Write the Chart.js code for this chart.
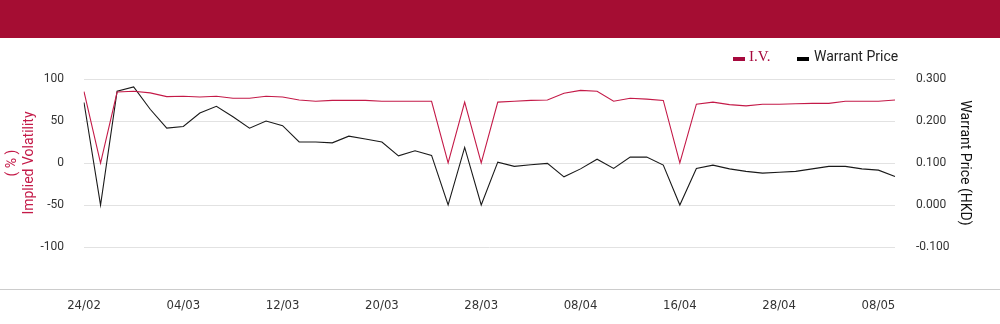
<!DOCTYPE html>
<html>
<head>
<meta charset="utf-8">
<title>I.V. vs Warrant Price</title>
<script src="https://cdn.jsdelivr.net/npm/chart.js@4/dist/chart.umd.min.js"></script>
<style>
    html, body { margin: 0; padding: 0; background: #fff; }
    .page { position: relative; width: 1000px; height: 324px; overflow: hidden; }
    .topbar { height: 38px; background: #a50d33; }
    .chart-wrap { position: relative; width: 1000px; height: 286px; }
    .legend { position: absolute; top: 48px; left: 0; width: 1000px; height: 20px; }
    .legend .sw { position: absolute; top: 9px; width: 12px; height: 4px; }
    .legend .txt { position: absolute; top: 0; line-height: 20px; white-space: nowrap; }
    .legend .iv { left: 749px; color: #a6093d; font: 15px "Liberation Serif", serif; }
    .legend .wp { left: 814px; color: #222; font: 14px Roboto, "Open Sans", sans-serif; }
</style>
</head>
<body>
<div class="page">
    <div class="topbar"></div>
    <div class="chart-wrap"><canvas id="ivChart"></canvas></div>
    <div class="legend">
        <div class="sw" style="left:733px;background:#a6093d"></div><span class="txt iv">I.V.</span>
        <div class="sw" style="left:797px;background:#000"></div><span class="txt wp">Warrant Price</span>
    </div>
</div>
<script>
// trading days on the x axis (every 6th one gets a label)
var dates = ['24/02', '25/02', '26/02', '27/02', '28/02', '03/03', '04/03', '05/03', '06/03', '07/03',
    '10/03', '11/03', '12/03', '13/03', '14/03', '17/03', '18/03', '19/03', '20/03', '21/03',
    '24/03', '25/03', '26/03', '27/03', '28/03', '31/03', '01/04', '02/04', '03/04', '07/04',
    '08/04', '09/04', '10/04', '11/04', '14/04', '15/04', '16/04', '17/04', '22/04', '23/04',
    '24/04', '25/04', '28/04', '29/04', '30/04', '02/05', '06/05', '07/05', '08/05', '09/05'];

// implied volatility (%)
var ivValues = [85, 0, 84.5, 85.5, 83.5, 79, 79.5, 78.5, 79.5, 77,
    77, 79.5, 78.5, 75, 73.5, 74.5, 74.5, 74.5, 73.5, 73.5,
    73.5, 73.5, 0, 72.5, 0, 72.5, 73.5, 74.5, 75, 83,
    86.5, 85.5, 73.5, 77, 76, 74.5, 0, 70, 72.5, 69.5,
    68, 70, 70, 70.5, 71, 71, 73.5, 73.5, 73.5, 75];

// warrant price (HKD)
var priceValues = [0.244, 0, 0.271, 0.281, 0.228, 0.183, 0.187, 0.219, 0.235, 0.210,
    0.183, 0.200, 0.189, 0.150, 0.150, 0.148, 0.164, 0.157, 0.150, 0.117,
    0.129, 0.118, 0, 0.137, 0, 0.102, 0.092, 0.096, 0.099, 0.067,
    0.086, 0.109, 0.087, 0.114, 0.114, 0.095, 0, 0.087, 0.095, 0.086,
    0.080, 0.076, 0.078, 0.080, 0.086, 0.092, 0.092, 0.086, 0.083, 0.068];

// axis ranges / steps
var ivAxis = { min: -100, max: 100, step: 50 };
var priceAxis = { min: -0.1, max: 0.3, step: 0.1 };

(function () {
    'use strict';

    var RED = '#c41a48';
    var TICK_FONT = { family: 'Roboto, "Open Sans", sans-serif', size: 12 };

    function fixWidth(w) {
        return function (scale) { scale.width = w; };
    }

    // long grey rule under the plot, across the whole page
    var bottomRule = {
        id: 'bottomRule',
        afterDraw: function (chart) {
            var ctx = chart.ctx;
            var y = Math.round(chart.chartArea.bottom) + 42.5;
            ctx.save();
            ctx.strokeStyle = '#cccccc';
            ctx.lineWidth = 1;
            ctx.beginPath();
            ctx.moveTo(0, y);
            ctx.lineTo(chart.width, y);
            ctx.stroke();
            ctx.restore();
        }
    };

    var ctx = document.getElementById('ivChart').getContext('2d');
    new Chart(ctx, {
        type: 'line',
        data: {
            labels: dates,
            datasets: [
                {
                    label: 'I.V.',
                    data: ivValues,
                    yAxisID: 'yIv',
                    borderColor: RED,
                    borderWidth: 1.1,
                    pointRadius: 0,
                    tension: 0
                },
                {
                    label: 'Warrant Price',
                    data: priceValues,
                    yAxisID: 'yPrice',
                    borderColor: '#1a1a1a',
                    borderWidth: 1.1,
                    pointRadius: 0,
                    tension: 0
                }
            ]
        },
        options: {
            responsive: true,
            maintainAspectRatio: false,
            animation: false,
            layout: { padding: { top: 41, left: 0, right: 0, bottom: 0 } },
            plugins: {
                tooltip: { enabled: false },
                legend: { display: false }
            },
            scales: {
                x: {
                    offset: false,
                    afterFit: function (scale) { scale.height = 77; },
                    grid: { display: false, drawTicks: false },
                    border: { display: false },
                    ticks: {
                        autoSkip: false,
                        maxRotation: 0,
                        padding: 51,
                        color: '#333',
                        font: { family: '"Liberation Sans Narrow", "DejaVu Sans Condensed", sans-serif', size: 13 },
                        callback: function (val, i) { return i % 6 === 0 ? dates[i] : ''; }
                    }
                },
                yIv: {
                    position: 'left',
                    min: ivAxis.min,
                    max: ivAxis.max,
                    afterFit: fixWidth(84),
                    grid: { color: '#e2e2e2', drawTicks: false },
                    border: { display: false },
                    ticks: {
                        stepSize: ivAxis.step,
                        padding: 20,
                        color: '#333',
                        font: TICK_FONT
                    },
                    title: {
                        display: true,
                        text: ['( % )', 'Implied Volatility'],
                        color: RED,
                        padding: { top: 4, bottom: 0 },
                        font: { family: 'Roboto, "Open Sans", sans-serif', size: 14 }
                    }
                },
                yPrice: {
                    position: 'right',
                    min: priceAxis.min,
                    max: priceAxis.max,
                    afterFit: fixWidth(105),
                    grid: { display: false, drawTicks: false },
                    border: { display: false },
                    ticks: {
                        stepSize: priceAxis.step,
                        padding: 21,
                        color: '#333',
                        font: TICK_FONT,
                        callback: function (v) { return Number(v).toFixed(3); }
                    },
                    title: {
                        display: true,
                        text: 'Warrant Price (HKD)',
                        color: '#111',
                        padding: { top: 27, bottom: 0 },
                        font: { family: 'Roboto, "Open Sans", sans-serif', size: 14 }
                    }
                }
            }
        },
        plugins: [bottomRule]
    });
})();
</script>
</body>
</html>
